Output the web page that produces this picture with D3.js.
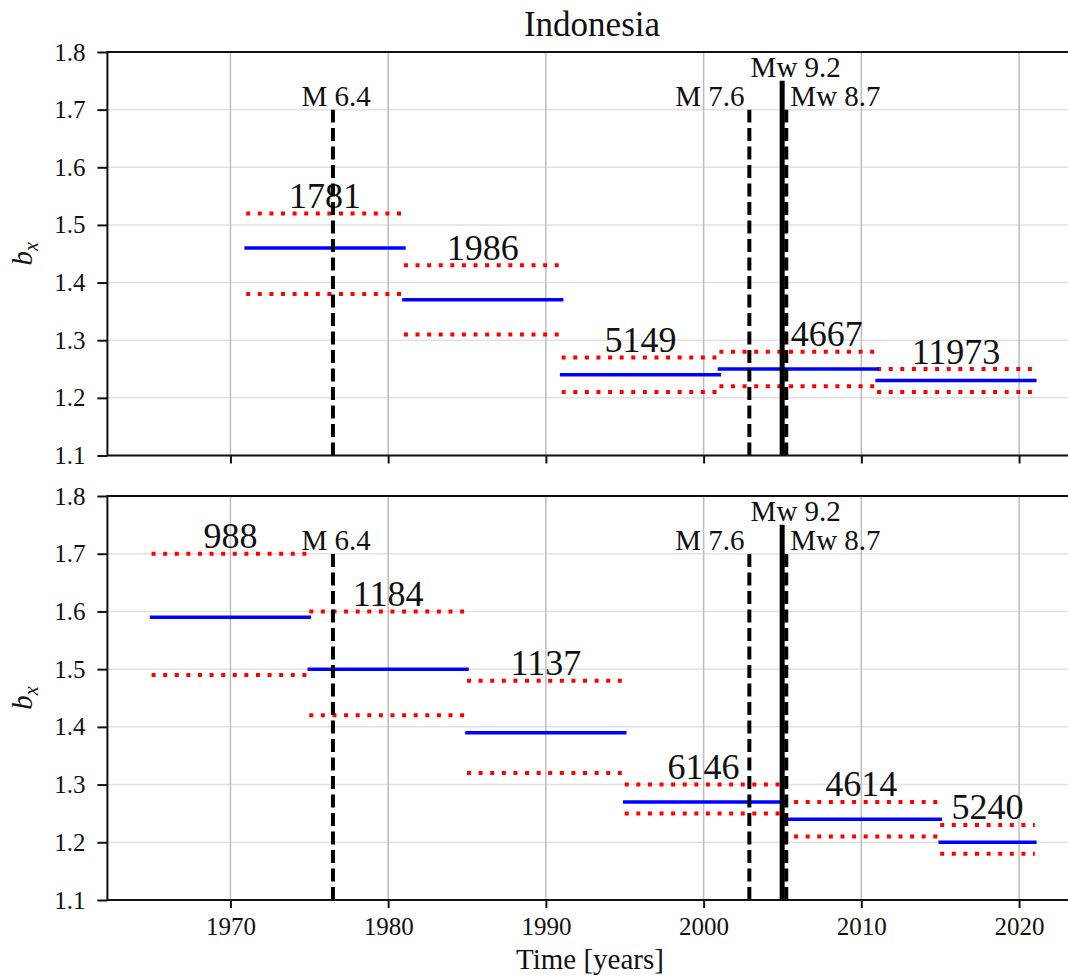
<!DOCTYPE html>
<html>
<head>
<meta charset="utf-8">
<script src="https://cdn.jsdelivr.net/npm/d3@7"></script>
<style>
  body { margin: 0; background: #fff; }
</style>
</head>
<body>
<div id="viz"></div>
<script>
// upper panel: time windows, b value, its bounds, number of events
var topStart = [1971, 1981, 1991, 2001, 2011];
var topEnd   = [1981, 1991, 2001, 2011, 2021];
var topB     = [1.46, 1.37, 1.24, 1.25, 1.23];
var topHi    = [1.52, 1.43, 1.27, 1.28, 1.25];
var topLo    = [1.38, 1.31, 1.21, 1.22, 1.21];
var topN     = [1781, 1986, 5149, 4667, 11973];
var topNudge = [0, 0, 0, 1.8, 0];   // label moved off the big quake line

// lower panel
var botStart = [1965, 1975, 1985, 1995, 2005, 2015];
var botEnd   = [1975, 1985, 1995, 2005, 2015, 2021];
var botB     = [1.59, 1.50, 1.39, 1.27, 1.24, 1.20];
var botHi    = [1.70, 1.60, 1.48, 1.30, 1.27, 1.23];
var botLo    = [1.49, 1.42, 1.32, 1.25, 1.21, 1.18];
var botN     = [988, 1184, 1137, 6146, 4614, 5240];
var botNudge = [0, 0, 0, 0, 0, 0];

// large earthquakes
var quakeYear  = [1976.5, 2002.9, 2004.98, 2005.24];
var quakeName  = ["M 6.4", "M 7.6", "Mw 9.2", "Mw 8.7"];
var quakeTop   = [1.7, 1.7, 1.75, 1.7];
var quakeSolid = [false, false, true, false];
var quakeText  = [1974.5, 1998.2, 2002.98, 2005.5];

var xTicks = [1970, 1980, 1990, 2000, 2010, 2020];
var yTicks = [1.1, 1.2, 1.3, 1.4, 1.5, 1.6, 1.7, 1.8];

var W = 1068, H = 976;
var FONT = "Liberation Serif";

var svg = d3.select("#viz")
    .append("svg")
    .attr("width", W)
    .attr("height", H);

// shared x axis, matplotlib-like 5% margin
var xmin = d3.min(botStart.concat(topStart)), xmax = d3.max(botEnd.concat(topEnd));
var pad = (xmax - xmin) * 0.05;
var x = d3.scaleLinear().domain([xmin - pad, xmax + pad]).range([107.4, 1079]);

function panel(top, bottom, starts, ends, b, hi, lo, n, nudge, showX) {
    var y = d3.scaleLinear().domain([1.1, 1.8]).range([bottom, top]);
    var g = svg.append("g");

    // grid
    g.selectAll(".hg").data(yTicks).enter().append("line")
        .attr("x1", x.range()[0]).attr("x2", x.range()[1])
        .attr("y1", function (d) { return y(d); })
        .attr("y2", function (d) { return y(d); })
        .style("stroke", "#e2e2e2").style("stroke-width", 1.5);
    g.selectAll(".vg").data(xTicks).enter().append("line")
        .attr("x1", function (d) { return x(d); })
        .attr("x2", function (d) { return x(d); })
        .attr("y1", top).attr("y2", bottom)
        .style("stroke", "#bdbdbd").style("stroke-width", 1.5);

    var idx = d3.range(starts.length);

    // bounds (dotted red)
    [hi, lo].forEach(function (arr) {
        g.selectAll(null).data(idx).enter().append("line")
            .attr("x1", function (i) { return x(starts[i]); })
            .attr("x2", function (i) { return x(ends[i]); })
            .attr("y1", function (i) { return y(arr[i]); })
            .attr("y2", function (i) { return y(arr[i]); })
            .style("stroke", "#ff0000")
            .style("stroke-width", 4)
            .style("stroke-dasharray", "4,7.6");
    });

    // b value (blue)
    g.selectAll(null).data(idx).enter().append("line")
        .attr("x1", function (i) { return x(starts[i]); })
        .attr("x2", function (i) { return x(ends[i]); })
        .attr("y1", function (i) { return y(b[i]); })
        .attr("y2", function (i) { return y(b[i]); })
        .style("stroke", "#0000ff")
        .style("stroke-width", 3.5)
        .style("stroke-linecap", "square");

    // counts
    g.selectAll(null).data(idx).enter().append("text")
        .attr("x", function (i) { return x((starts[i] + ends[i]) / 2 + nudge[i]); })
        .attr("y", function (i) { return y(hi[i]) - 5.5; })
        .attr("text-anchor", "middle")
        .attr("font-family", FONT)
        .attr("font-size", 36)
        .attr("fill", "#111")
        .text(function (i) { return n[i]; });

    // quakes
    var q = d3.range(quakeYear.length);
    g.selectAll(null).data(q).enter().append("line")
        .attr("x1", function (i) { return x(quakeYear[i]); })
        .attr("x2", function (i) { return x(quakeYear[i]); })
        .attr("y1", y(1.1))
        .attr("y2", function (i) { return y(quakeTop[i]); })
        .style("stroke", "#000")
        .style("stroke-width", function (i) { return quakeSolid[i] ? 5 : 4; })
        .style("stroke-dasharray", function (i) { return quakeSolid[i] ? null : "13,5.5"; });
    g.selectAll(null).data(q).enter().append("text")
        .attr("x", function (i) { return x(quakeText[i]); })
        .attr("y", function (i) { return y(quakeTop[i]) - 4; })
        .attr("font-family", FONT)
        .attr("font-size", 29)
        .attr("fill", "#111")
        .text(function (i) { return quakeName[i]; });

    // axes
    var ya = g.append("g")
        .attr("transform", "translate(" + x.range()[0] + ",0)")
        .call(d3.axisLeft(y).tickValues(yTicks).tickFormat(d3.format(".1f")).tickSize(10).tickPadding(12));
    var xa = g.append("g")
        .attr("transform", "translate(0," + bottom + ")")
        .call(d3.axisBottom(x).tickValues(xTicks).tickFormat(showX ? d3.format("d") : "").tickSize(8).tickPadding(9));
    [ya, xa].forEach(function (a) {
        a.attr("font-family", FONT).attr("font-size", 25);
        a.select(".domain").remove();
        a.selectAll(".tick line").style("stroke", "#111").style("stroke-width", 2);
        a.selectAll(".tick text").attr("fill", "#111");
    });

    // spines
    g.append("rect")
        .attr("x", x.range()[0]).attr("y", top)
        .attr("width", x.range()[1] - x.range()[0]).attr("height", bottom - top)
        .style("fill", "none").style("stroke", "#111").style("stroke-width", 2);

    // y label
    var yl = g.append("text")
        .attr("transform", "translate(32," + (top + bottom) / 2 + ") rotate(-90)")
        .attr("text-anchor", "middle")
        .attr("font-family", FONT)
        .attr("font-size", 29)
        .attr("font-style", "italic")
        .attr("fill", "#111");
    yl.append("tspan").text("b");
    yl.append("tspan").attr("dy", 6).attr("font-size", 20).text("x");
}

panel(52, 455.5, topStart, topEnd, topB, topHi, topLo, topN, topNudge, false);
panel(496, 900, botStart, botEnd, botB, botHi, botLo, botN, botNudge, true);

svg.append("text")
    .attr("x", 592).attr("y", 36)
    .attr("text-anchor", "middle")
    .attr("font-family", FONT)
    .attr("font-size", 35)
    .attr("fill", "#111")
    .text("Indonesia");

svg.append("text")
    .attr("x", 590).attr("y", 969)
    .attr("text-anchor", "middle")
    .attr("font-family", FONT)
    .attr("font-size", 29)
    .attr("fill", "#111")
    .text("Time [years]");
</script>
</body>
</html>
